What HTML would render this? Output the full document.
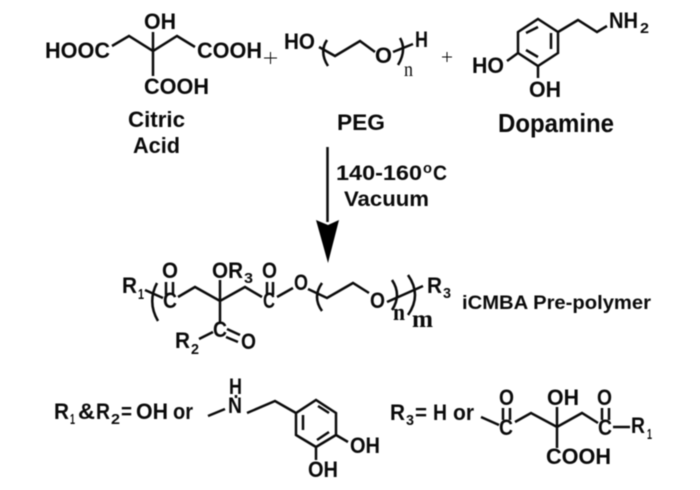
<!DOCTYPE html>
<html>
<head>
<meta charset="utf-8">
<style>
html,body{margin:0;padding:0;background:#fff;width:700px;height:490px;overflow:hidden}
svg{display:block;filter:blur(0.45px)}
text{font-family:"Liberation Sans",Arial,sans-serif;font-weight:bold;font-size:22.5px;fill:#0a0a0a}
.sub{font-size:15px}
.ser{font-family:"Liberation Serif",serif}
path{fill:none;stroke:#0a0a0a;stroke-width:2.5;stroke-linejoin:miter}
</style>
</head>
<body>
<svg width="700" height="490" viewBox="0 0 700 490" xmlns="http://www.w3.org/2000/svg">
<!-- Citric acid -->
<path d="M112 46L129 36L153 51L177 36L195 47M153 32V76"/>
<text x="45" y="58" textLength="65" lengthAdjust="spacingAndGlyphs">HOOC</text>
<text x="144" y="29" textLength="32" lengthAdjust="spacingAndGlyphs">OH</text>
<text x="197" y="58" textLength="65" lengthAdjust="spacingAndGlyphs">COOH</text>
<text x="144" y="94" textLength="65" lengthAdjust="spacingAndGlyphs">COOH</text>
<text x="128" y="127" textLength="57" lengthAdjust="spacingAndGlyphs">Citric</text>
<text x="133" y="153" textLength="47" lengthAdjust="spacingAndGlyphs">Acid</text>
<path d="M264 58H277M270.500 52V64" style="stroke-width:1"/>
<!-- PEG -->
<text x="284" y="49" textLength="31" lengthAdjust="spacingAndGlyphs">HO</text>
<path d="M319 47L335 56L360 41L375 52M393 52L413 44"/>
<path d="M327 40Q319 52 328 66M400 38Q407 50 398 65"/>
<text x="375" y="63" textLength="17" lengthAdjust="spacingAndGlyphs">O</text>
<text x="415" y="47" textLength="13" lengthAdjust="spacingAndGlyphs">H</text>
<text class="ser" x="404" y="76" textLength="9" lengthAdjust="spacingAndGlyphs" style="font-weight:normal;font-size:20px">n</text>
<path d="M442 57H452M447 52V62" style="stroke-width:1"/>
<text x="337" y="130" textLength="48" lengthAdjust="spacingAndGlyphs">PEG</text>
<!-- Dopamine -->
<path d="M538 19L558 32V53L538 66L518 53V32ZM526 33L538 27M551 33V49M526 50L538 57M558 32L578 20L597 32L607 26M518 53L507 61M538 66V78"/>
<text x="609" y="28" textLength="29" lengthAdjust="spacingAndGlyphs">NH</text>
<text class="sub" x="640" y="33" textLength="9" lengthAdjust="spacingAndGlyphs">2</text>
<text x="472" y="73" textLength="32" lengthAdjust="spacingAndGlyphs">HO</text>
<text x="529" y="97" textLength="32" lengthAdjust="spacingAndGlyphs">OH</text>
<text x="498" y="132" textLength="116" lengthAdjust="spacingAndGlyphs" style="font-size:26px">Dopamine</text>
<!-- Arrow -->
<path d="M327.500 147V222"/>
<polygon points="316,220 328,225 339,220 328,263" fill="#000"/>
<text x="336" y="180" textLength="86" lengthAdjust="spacingAndGlyphs" style="font-size:21.500px">140-160</text>
<text x="423" y="173" class="sub" textLength="9" lengthAdjust="spacingAndGlyphs">o</text>
<text x="433" y="180" textLength="14" lengthAdjust="spacingAndGlyphs" style="font-size:21.500px">C</text>
<text x="344" y="206" textLength="85" lengthAdjust="spacingAndGlyphs" style="font-size:21.500px">Vacuum</text>
<!-- Polymer -->
<text x="122" y="293" textLength="15" lengthAdjust="spacingAndGlyphs">R</text>
<text class="sub" x="138" y="299" textLength="6" lengthAdjust="spacingAndGlyphs">1</text>
<path d="M157 283Q147 302 158 321M145 290L163 298M166 282V295M173 282V295M178 297L195 287L220 301L245 287L262 297M267 282V295M273 282V295M220 280V323M199 339L213 332M227 329L240 335M226 337L238 342M277 297L293 288M308 289L327 298L353 283L369 293M322 283Q312 297 322 311M392 280Q402 295 392 310M387 302L423 286M408 275Q422 295 408 315"/>
<text x="163" y="308" textLength="14" lengthAdjust="spacingAndGlyphs">C</text>
<text x="162" y="278" textLength="16" lengthAdjust="spacingAndGlyphs">O</text>
<text x="212" y="278" textLength="31" lengthAdjust="spacingAndGlyphs">OR</text>
<text class="sub" x="244" y="283" textLength="9" lengthAdjust="spacingAndGlyphs">3</text>
<text x="262" y="278" textLength="15" lengthAdjust="spacingAndGlyphs">O</text>
<text x="263" y="308" textLength="12" lengthAdjust="spacingAndGlyphs">C</text>
<text x="213" y="337" textLength="14" lengthAdjust="spacingAndGlyphs">C</text>
<text x="175" y="348" textLength="15" lengthAdjust="spacingAndGlyphs">R</text>
<text class="sub" x="191" y="354" textLength="8" lengthAdjust="spacingAndGlyphs">2</text>
<text x="241" y="349" textLength="15" lengthAdjust="spacingAndGlyphs">O</text>
<text x="294" y="290" textLength="14" lengthAdjust="spacingAndGlyphs">O</text>
<text x="370" y="308" textLength="15" lengthAdjust="spacingAndGlyphs">O</text>
<text class="ser" x="393" y="320" textLength="12" lengthAdjust="spacingAndGlyphs" style="font-size:24px">n</text>
<text class="ser" x="412" y="327" textLength="21" lengthAdjust="spacingAndGlyphs" style="font-size:25px">m</text>
<text x="427" y="293" textLength="15" lengthAdjust="spacingAndGlyphs">R</text>
<text class="sub" x="443" y="298" textLength="8" lengthAdjust="spacingAndGlyphs">3</text>
<text x="462" y="309" textLength="189" lengthAdjust="spacingAndGlyphs" style="font-size:19px">iCMBA Pre-polymer</text>
<!-- Bottom left -->
<text x="54" y="419" textLength="15" lengthAdjust="spacingAndGlyphs">R</text>
<text class="sub" x="70" y="424" textLength="5" lengthAdjust="spacingAndGlyphs">1</text>
<text x="78" y="419" textLength="17" lengthAdjust="spacingAndGlyphs">&amp;</text>
<text x="96" y="419" textLength="14" lengthAdjust="spacingAndGlyphs">R</text>
<text class="sub" x="111" y="424" textLength="9" lengthAdjust="spacingAndGlyphs">2</text>
<text x="121" y="419" textLength="11" lengthAdjust="spacingAndGlyphs">=</text>
<text x="136" y="419" textLength="32" lengthAdjust="spacingAndGlyphs">OH</text>
<text x="173" y="419" textLength="20" lengthAdjust="spacingAndGlyphs">or</text>
<path d="M208 416L225 409M236 395V398M247 413L275 401L296 413L316 400L336 413V435L316 447L296 435V413M303 415V430M318 406L329 413M317 440L329 432M336 435L348 442M316 447V460"/>
<text x="229" y="394" textLength="13" lengthAdjust="spacingAndGlyphs">H</text>
<text x="228" y="413" textLength="14" lengthAdjust="spacingAndGlyphs">N</text>
<text x="350" y="453" textLength="30" lengthAdjust="spacingAndGlyphs">OH</text>
<text x="308" y="477" textLength="30" lengthAdjust="spacingAndGlyphs">OH</text>
<!-- Bottom right -->
<text x="390" y="420" textLength="15" lengthAdjust="spacingAndGlyphs">R</text>
<text class="sub" x="406" y="425" textLength="8" lengthAdjust="spacingAndGlyphs">3</text>
<text x="415" y="420" textLength="12" lengthAdjust="spacingAndGlyphs">=</text>
<text x="433" y="420" textLength="14" lengthAdjust="spacingAndGlyphs">H</text>
<text x="453" y="420" textLength="21" lengthAdjust="spacingAndGlyphs">or</text>
<path d="M481 417L499 425M503 408V420M510 408V420M515 422L531 413L557 427L582 413L598 423M602 408V420M609 408V420M557 407V448M613 427H630"/>
<text x="499" y="435" textLength="14" lengthAdjust="spacingAndGlyphs">C</text>
<text x="499" y="405" textLength="15" lengthAdjust="spacingAndGlyphs">O</text>
<text x="547" y="405" textLength="32" lengthAdjust="spacingAndGlyphs">OH</text>
<text x="597" y="405" textLength="15" lengthAdjust="spacingAndGlyphs">O</text>
<text x="598" y="435" textLength="14" lengthAdjust="spacingAndGlyphs">C</text>
<text x="546" y="464" textLength="65" lengthAdjust="spacingAndGlyphs">COOH</text>
<text x="631" y="433" textLength="14" lengthAdjust="spacingAndGlyphs">R</text>
<text class="sub" x="647" y="439" textLength="5" lengthAdjust="spacingAndGlyphs">1</text>
</svg>
</body>
</html>
